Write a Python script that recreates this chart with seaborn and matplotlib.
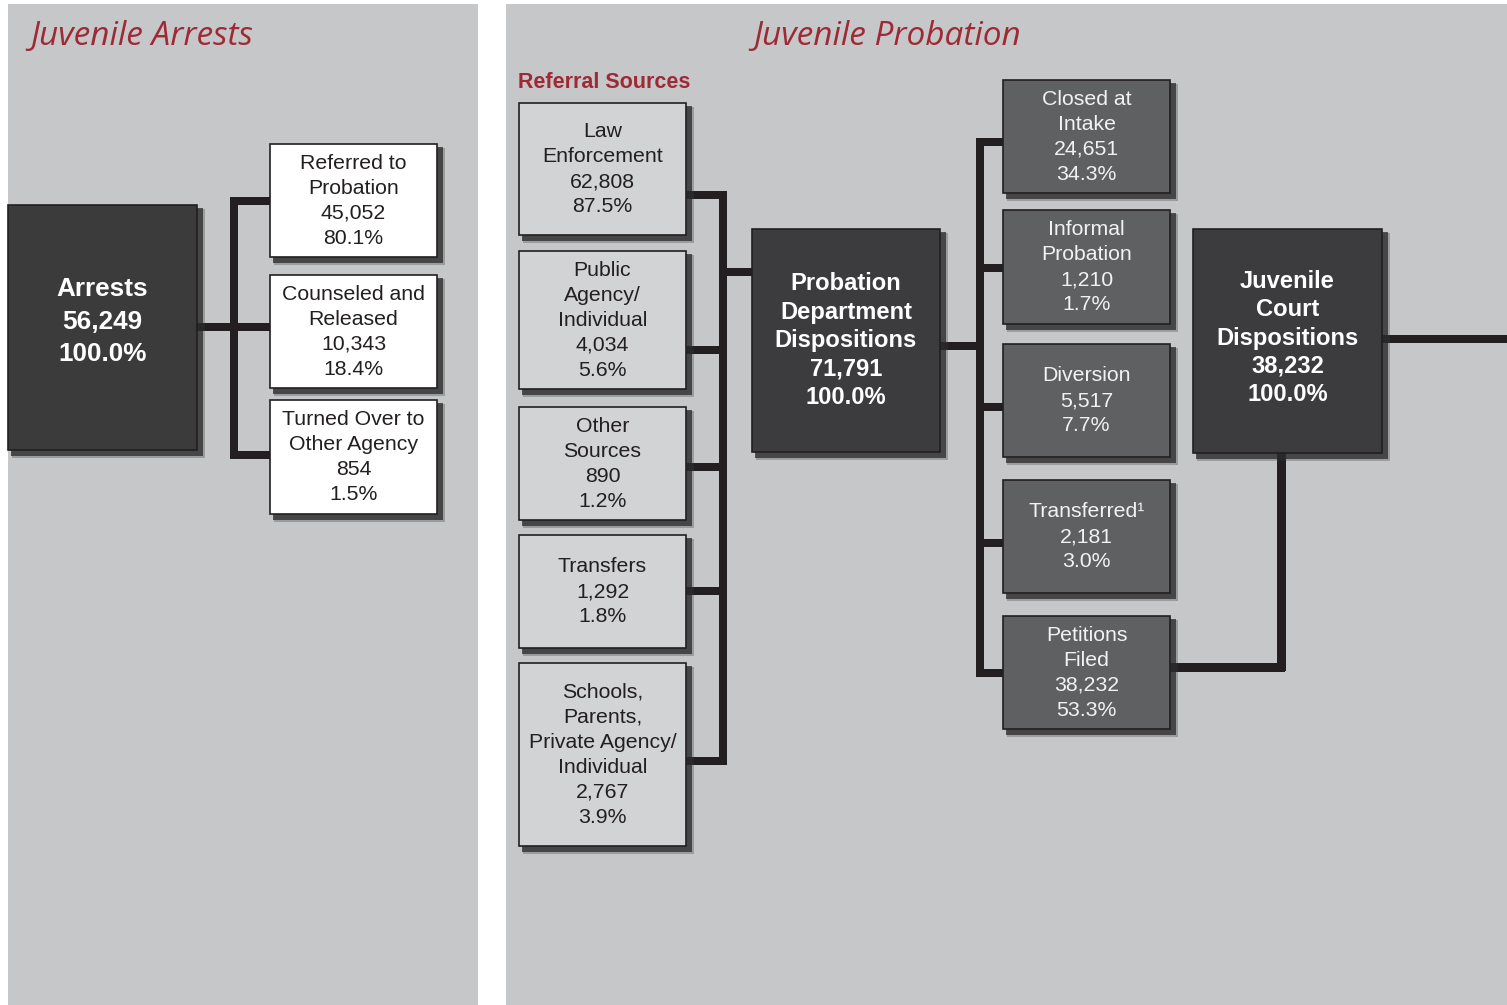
import matplotlib
matplotlib.use("Agg")
import matplotlib.pyplot as plt
import seaborn as sns
from matplotlib.patches import Rectangle

sns.set_style("white")
plt.rcParams["font.family"] = ["Liberation Sans", "DejaVu Sans"]

# --- data ---
arrest_total = 56249
arrest_labels = ["Referred to\nProbation", "Counseled and\nReleased", "Turned Over to\nOther Agency"]
arrest_counts = [45052, 10343, 854]
arrest_pcts = [80.1, 18.4, 1.5]

referral_labels = ["Law\nEnforcement", "Public\nAgency/\nIndividual", "Other\nSources",
                   "Transfers", "Schools,\nParents,\nPrivate Agency/\nIndividual"]
referral_counts = [62808, 4034, 890, 1292, 2767]
referral_pcts = [87.5, 5.6, 1.2, 1.8, 3.9]

probation_total = 71791
dispo_labels = ["Closed at\nIntake", "Informal\nProbation", "Diversion", "Transferred¹", "Petitions\nFiled"]
dispo_counts = [24651, 1210, 5517, 2181, 38232]
dispo_pcts = [34.3, 1.7, 7.7, 3.0, 53.3]

court_total = 38232

# --- layout (pixel space) ---
W, H = 1507, 1005
PANEL = "#c6c7c9"
RED = "#9d2a35"
LINE = "#231f20"

fig = plt.figure(figsize=(W / 100, H / 100), dpi=100)
ax = fig.add_axes([0, 0, 1, 1])
ax.set_xlim(0, W)
ax.set_ylim(H, 0)
ax.axis("off")


def rect(x0, y0, x1, y1, **kw):
    ax.add_patch(Rectangle((x0, y0), x1 - x0, y1 - y0, **kw))


def box(x0, y0, x1, y1, face, text, tcolor, bold=False, size=15.3, ls=1.4, dy=0):
    # soft drop shadow
    rect(x0 + 4, y0 + 4, x1 + 8, y1 + 8, facecolor="#3a3a3a", alpha=0.3, lw=0, zorder=2)
    rect(x0 + 3, y0 + 3, x1 + 6, y1 + 6, facecolor="#2a2a2a", alpha=0.75, lw=0, zorder=2)
    rect(x0, y0, x1, y1, facecolor=face, edgecolor=LINE, lw=1.2, zorder=3)
    ax.text((x0 + x1) / 2, (y0 + y1) / 2 + dy, text, ha="center", va="center", color=tcolor,
            fontsize=size, fontweight="bold" if bold else "normal", linespacing=ls, zorder=4)


def hbar(y, x0, x1, t=8):
    rect(x0, y - t / 2, x1, y + t / 2, facecolor=LINE, lw=0, zorder=1)


def vbar(x, y0, y1, t=8):
    rect(x - t / 2, y0, x + t / 2, y1, facecolor=LINE, lw=0, zorder=1)


def fmt(label, count, pct):
    return f"{label}\n{count:,}\n{pct:.1f}%"


# panels
rect(8, 4, 478, H, facecolor=PANEL, lw=0, zorder=0)
rect(506, 4, W, H, facecolor=PANEL, lw=0, zorder=0)

title_font = dict(family=["Open Sans", "DejaVu Sans"], style="italic", color=RED, fontsize=24)
ax.text(30, 36, "Juvenile Arrests", ha="left", va="center", **title_font)
ax.text(887, 36, "Juvenile Probation", ha="center", va="center", **title_font)
ax.text(518, 82, "Referral Sources", ha="left", va="center", color=RED, fontsize=15.5,
        fontweight="bold")

# --- Juvenile arrests ---
box(8, 205, 197, 450, "#3b3b3c", f"Arrests\n{arrest_total:,}\n100.0%", "white",
    bold=True, size=18.8, ls=1.47, dy=-6)
arrest_y = [(144, 257), (275, 388), (400, 514)]
for (y0, y1), lab, c, p in zip(arrest_y, arrest_labels, arrest_counts, arrest_pcts):
    box(270, y0, 437, y1, "white", fmt(lab, c, p), LINE)
hbar(327, 197, 234)
vbar(234, 197, 459)
for yc in [201, 327, 455]:
    hbar(yc, 234, 270)

# --- referral sources ---
ref_y = [(103, 235), (251, 389), (407, 520), (535, 648), (663, 846)]
ref_conn = [195, 350, 467, 591, 761]
for (y0, y1), lab, c, p in zip(ref_y, referral_labels, referral_counts, referral_pcts):
    box(519, y0, 686, y1, "#d1d3d4", fmt(lab, c, p), LINE)
vbar(723, 191, 765)
for yc in ref_conn:
    hbar(yc, 686, 723)
hbar(272, 723, 752)

box(752, 229, 940, 452, "#3c3c3e",
    f"Probation\nDepartment\nDispositions\n{probation_total:,}\n100.0%", "white",
    bold=True, size=17.1, ls=1.3)

# --- probation dispositions ---
disp_y = [(80, 193), (210, 324), (344, 457), (480, 593), (616, 729)]
disp_conn = [142, 268, 407, 543, 673]
for (y0, y1), lab, c, p in zip(disp_y, dispo_labels, dispo_counts, dispo_pcts):
    box(1003, y0, 1170, y1, "#5f6062", fmt(lab, c, p), "#f2f2f2")
hbar(346, 940, 980)
vbar(980, 138, 677)
for yc in disp_conn:
    hbar(yc, 980, 1003)

# --- juvenile court ---
box(1193, 229, 1382, 453, "#3c3c3e",
    f"Juvenile\nCourt\nDispositions\n{court_total:,}\n100.0%", "white",
    bold=True, size=17.1, ls=1.3, dy=-3)
hbar(667, 1170, 1285, t=9)
vbar(1281, 453, 671, t=9)
hbar(339, 1382, W)

fig.savefig("out.png", dpi=100, facecolor="white")
